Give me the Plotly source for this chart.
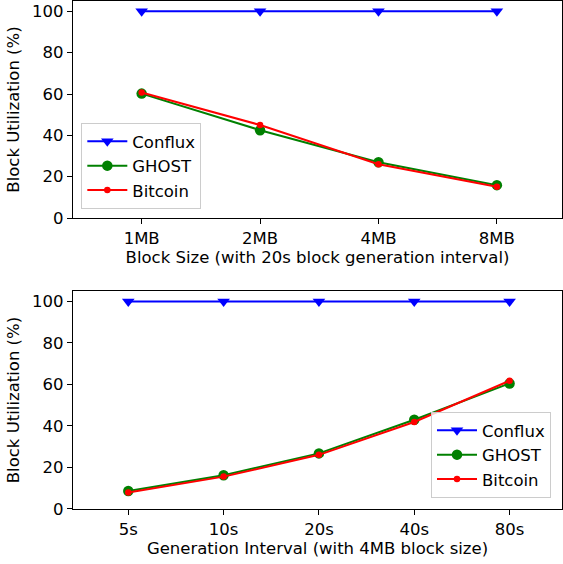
import plotly.graph_objects as go

sizes = ["1MB", "2MB", "4MB", "8MB"]
size_conflux = [100, 100, 100, 100]
size_ghost = [60.2, 42.5, 27.0, 15.9]
size_bitcoin = [60.7, 45.0, 26.0, 15.1]

intervals = ["5s", "10s", "20s", "40s", "80s"]
int_conflux = [100, 100, 100, 100, 100]
int_ghost = [8.7, 16.3, 26.8, 43.0, 60.5]
int_bitcoin = [8.0, 15.6, 26.1, 41.9, 61.8]

yticks = [0, 20, 40, 60, 80, 100]

FONT = "DejaVu Sans"
FS = 16.5
fig = go.Figure()

def add_series(x, ys, xa, ya, legend):
    conf, gh, bt = ys
    fig.add_trace(go.Scatter(x=list(range(len(x))), y=conf, mode="lines+markers", name="Conflux",
                             line=dict(color="blue", width=2),
                             marker=dict(symbol="triangle-down", size=11, color="blue"),
                             xaxis=xa, yaxis=ya, legend=legend))
    fig.add_trace(go.Scatter(x=list(range(len(x))), y=gh, mode="lines+markers", name="GHOST",
                             line=dict(color="green", width=2),
                             marker=dict(symbol="circle", size=10.5, color="green"),
                             xaxis=xa, yaxis=ya, legend=legend))
    fig.add_trace(go.Scatter(x=list(range(len(x))), y=bt, mode="lines+markers", name="Bitcoin",
                             line=dict(color="red", width=2),
                             marker=dict(symbol="circle", size=6.5, color="red"),
                             xaxis=xa, yaxis=ya, legend=legend))

add_series(sizes, (size_conflux, size_ghost, size_bitcoin), "x", "y", "legend")
add_series(intervals, (int_conflux, int_ghost, int_bitcoin), "x2", "y2", "legend2")

axis_common = dict(showline=True, linecolor="black", linewidth=1.2, mirror=True,
                   ticks="outside", ticklen=5, tickwidth=1.2, tickcolor="black",
                   showgrid=False, zeroline=False, automargin=False,
                   tickfont=dict(family=FONT, size=FS, color="black"))

fig.update_layout(
    width=563, height=564,
    margin=dict(l=72.5, r=1, t=1, b=55),
    plot_bgcolor="white", paper_bgcolor="white",
    font=dict(family=FONT, size=FS, color="black"),
    showlegend=True,
    xaxis=dict(domain=[0, 1], anchor="y", range=[-0.58, 3.55],
               tickmode="array", tickvals=list(range(len(sizes))), ticktext=sizes,
               title=dict(text="Block Size (with 20s block generation interval)", standoff=4,
                          font=dict(family=FONT, size=FS)),
               **axis_common),
    yaxis=dict(domain=[0.5728, 1], anchor="x", range=[0, 105],
               tickmode="array", tickvals=yticks,
               title=dict(text="Block Utilization (%)", standoff=8, font=dict(family=FONT, size=FS)),
               **axis_common),
    xaxis2=dict(domain=[0, 1], anchor="y2", range=[-0.58, 4.55],
                tickmode="array", tickvals=list(range(len(intervals))), ticktext=intervals,
                title=dict(text="Generation Interval (with 4MB block size)", standoff=4,
                           font=dict(family=FONT, size=FS)),
                **axis_common),
    yaxis2=dict(domain=[0, 0.429], anchor="x2", range=[0, 105],
                tickmode="array", tickvals=yticks,
                title=dict(text="Block Utilization (%)", standoff=8, font=dict(family=FONT, size=FS)),
                **axis_common),
    legend=dict(x=0.017, y=0.5906, xanchor="left", yanchor="bottom", xref="paper", yref="paper",
                bgcolor="rgba(255,255,255,0.8)", bordercolor="#cccccc", borderwidth=1,
                font=dict(family=FONT, size=FS), tracegroupgap=0, itemwidth=40),
    legend2=dict(x=0.9775, y=0.0217, xanchor="right", yanchor="bottom", xref="paper", yref="paper",
                 bgcolor="rgba(255,255,255,0.8)", bordercolor="#cccccc", borderwidth=1,
                 font=dict(family=FONT, size=FS), tracegroupgap=0, itemwidth=40),
)

fig.write_html("out.html", config={"displayModeBar": False},
               post_script="document.body.style.margin='0';")
